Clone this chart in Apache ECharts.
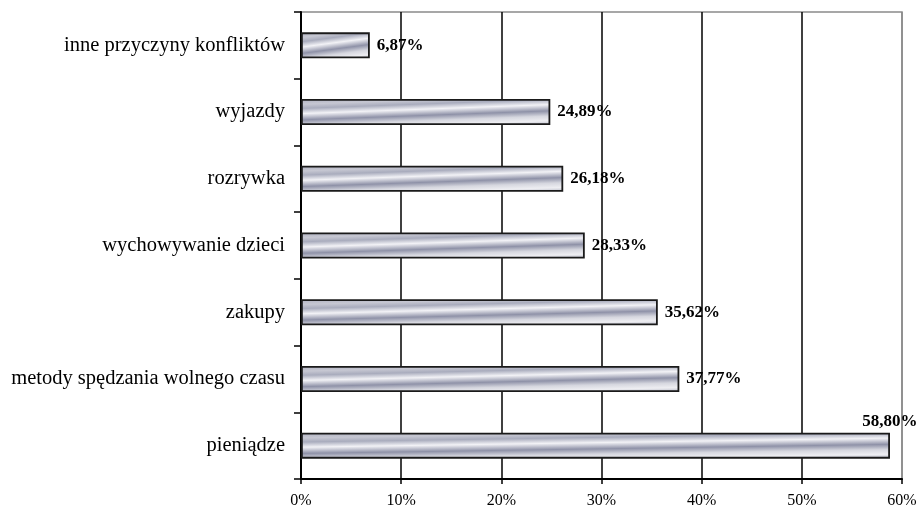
<!DOCTYPE html>
<html>
<head>
<meta charset="utf-8">
<script src="https://cdn.jsdelivr.net/npm/echarts@6/dist/echarts.min.js"></script>
<style>
  html, body { margin: 0; padding: 0; background: #ffffff; }
  #chart { width: 922px; height: 507px; }
</style>
</head>
<body>
<div id="chart"></div>
<script>
// Przyczyny konfliktów — odsetek wskazań (od góry do dołu)
const categories = [
  'inne przyczyny konfliktów',
  'wyjazdy',
  'rozrywka',
  'wychowywanie dzieci',
  'zakupy',
  'metody spędzania wolnego czasu',
  'pieniądze'
];
const values = [6.87, 24.89, 26.18, 28.33, 35.62, 37.77, 58.80];
const valueLabels = ['6,87%', '24,89%', '26,18%', '28,33%', '35,62%', '37,77%', '58,80%'];
const xTicks = [0, 10, 20, 30, 40, 50, 60];

const AXIS_MAX = 60;
const PLOT_WIDTH = 601;   // px between 0% and 60%
const BAR_HEIGHT = 26;

// Metallic fill: bands tilted so they rise slightly towards the bar end.
const TILT = 0.35;
const SPAN = 1 + TILT;
const bandStops = [
  [0.00, '#aeb0bf'],
  [0.20, '#c6c7d2'],
  [0.36, '#a9acbd'],
  [0.56, '#f2f2f6'],
  [0.80, '#8f92a8'],
  [1.00, '#d6d7df'],
  [1.18, '#eeeef2'],
  [1.35, '#b4b6c4']
];
function metallic(value) {
  const w = value / AXIS_MAX * PLOT_WIDTH;
  const h = BAR_HEIGHT;
  return {
    type: 'linear',
    x: 0, y: 0,
    x2: SPAN * TILT * h * h / (w * w),
    y2: SPAN,
    colorStops: bandStops.map(([s, c]) => ({ offset: s / SPAN, color: c }))
  };
}

const fmt = v => valueLabels[values.indexOf(v)];

const seriesData = values.map(v => {
  const item = {
    value: v,
    itemStyle: { color: metallic(v) }
  };
  if (v > 55) {
    // the longest bar has its label sitting above its end
    item.label = { position: ['100%', -3], align: 'center', verticalAlign: 'bottom' };
  }
  return item;
});

const chart = echarts.init(document.getElementById('chart'), null, { renderer: 'canvas' });
chart.setOption({
  animation: false,
  backgroundColor: '#ffffff',
  textStyle: { fontFamily: 'Liberation Serif' },
  grid: {
    left: 301, right: 20, top: 12, bottom: 28,
    outerBoundsMode: 'none',
    containLabel: false,
    show: true, borderColor: '#8a8a8a', borderWidth: 1.5, backgroundColor: 'transparent'
  },
  xAxis: {
    type: 'value',
    min: 0, max: AXIS_MAX, interval: 10,
    axisLine: { show: true, lineStyle: { color: '#000', width: 2 } },
    axisTick: { show: true, length: 5, lineStyle: { color: '#000', width: 1.5 } },
    axisLabel: {
      color: '#000', fontSize: 16, fontFamily: 'Liberation Serif', margin: 14,
      formatter: v => xTicks.includes(v) ? v + '%' : ''
    },
    splitLine: {
      show: true,
      lineStyle: { color: ['#000', '#000', '#000', '#000', '#000', '#000', '#8a8a8a'], width: 1.5 }
    }
  },
  yAxis: {
    type: 'category',
    data: categories,
    inverse: true,
    axisLine: { show: true, lineStyle: { color: '#000', width: 2 } },
    axisTick: { show: true, length: 7, lineStyle: { color: '#000', width: 1.5 } },
    axisLabel: { color: '#000', fontSize: 20.5, fontFamily: 'Liberation Serif', margin: 16 },
    splitLine: { show: false }
  },
  series: [{
    type: 'bar',
    data: seriesData,
    barWidth: BAR_HEIGHT,
    itemStyle: { borderColor: '#1a1a1a', borderWidth: 1.8 },
    label: {
      show: true,
      position: 'right',
      distance: 7,
      color: '#000',
      fontSize: 17,
      fontWeight: 'bold',
      fontFamily: 'Liberation Serif',
      formatter: p => fmt(p.value)
    }
  }]
});
</script>
</body>
</html>
